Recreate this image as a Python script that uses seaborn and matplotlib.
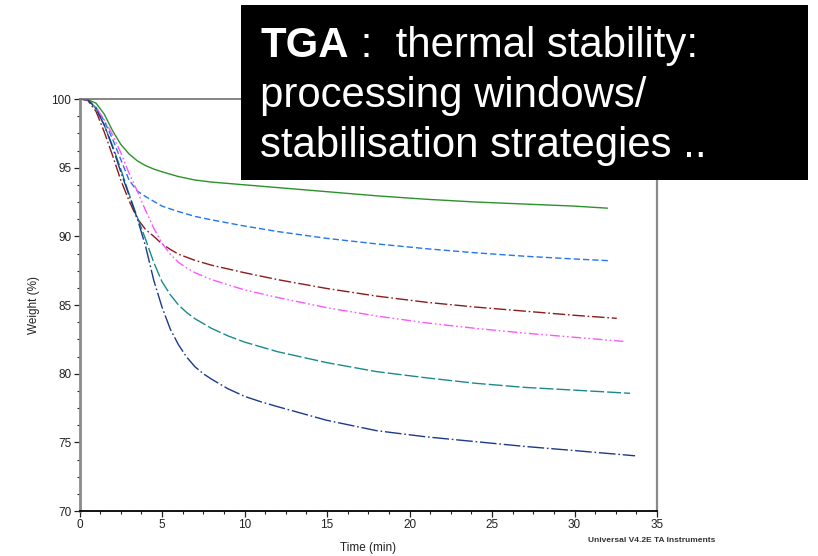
import numpy as np
import pandas as pd
import matplotlib
matplotlib.use("Agg")
import matplotlib.pyplot as plt
import seaborn as sns
from matplotlib.ticker import MultipleLocator

# ---- data ----
t_green = [0, 0.5, 1, 1.5, 2, 2.5, 3, 3.5, 4, 4.5, 5, 6, 7, 8, 10, 12, 15, 18, 21, 24, 27, 30, 32.0]
w_green = [100, 99.95, 99.7, 98.9, 97.7, 96.7, 96.0, 95.5, 95.15, 94.9, 94.7, 94.35, 94.1, 93.95,
           93.75, 93.55, 93.25, 92.95, 92.7, 92.5, 92.35, 92.2, 92.05]

t_blue = [0, 0.5, 1, 1.5, 2, 2.5, 3, 3.5, 4, 4.5, 5, 6, 7, 8, 10, 12, 15, 18, 21, 24, 27, 30, 32.2]
w_blue = [100, 99.95, 99.4, 98.4, 97.1, 95.6, 94.1, 93.3, 92.9, 92.55, 92.2, 91.8, 91.45, 91.2,
          90.75, 90.35, 89.85, 89.45, 89.1, 88.8, 88.55, 88.35, 88.22]

t_maroon = [0, 0.5, 1, 1.5, 2, 2.5, 3, 3.5, 4, 4.5, 5, 5.5, 6, 7, 8, 10, 12, 15, 18, 21, 24, 27, 30, 32.56]
w_maroon = [100, 99.9, 99.1, 97.6, 95.9, 94.1, 92.6, 91.3, 90.5, 90.0, 89.45, 89.05, 88.7, 88.25, 87.9,
            87.35, 86.85, 86.2, 85.65, 85.2, 84.85, 84.55, 84.25, 84.03]

t_pink = [0, 0.5, 1, 1.5, 2, 2.5, 3, 3.5, 4, 4.5, 5, 5.5, 6, 6.5, 7, 8, 10, 12, 15, 18, 21, 24, 27, 30, 32.96]
w_pink = [100, 99.95, 99.4, 98.5, 97.4, 96.1, 94.6, 93.3, 91.9, 90.6, 89.5, 88.7, 88.1, 87.7, 87.35, 86.85,
          86.1, 85.55, 84.8, 84.2, 83.7, 83.3, 82.95, 82.65, 82.35]

t_teal = [0, 0.5, 1, 1.5, 2, 2.5, 3, 3.5, 4, 4.5, 5, 5.5, 6, 6.5, 7, 8, 9, 10, 12, 15, 18, 21, 24, 27, 30, 33.36]
w_teal = [100, 99.95, 99.3, 98.1, 96.6, 94.9, 93.1, 91.4, 89.8, 88.1, 86.7, 85.75, 85.0, 84.45, 84.0, 83.3,
          82.75, 82.3, 81.6, 80.8, 80.15, 79.7, 79.3, 79.0, 78.8, 78.57]

t_navy = [0, 0.5, 1, 1.5, 2, 2.5, 3, 3.5, 4, 4.5, 5, 5.5, 6, 6.5, 7, 7.5, 8, 9, 10, 11, 12, 15, 18, 21,
          24, 27, 30, 33.67]
w_navy = [100, 99.95, 99.3, 98.1, 96.5, 94.7, 93.0, 91.3, 89.3, 86.8, 84.85, 83.25, 82.1, 81.2, 80.5,
          80.0, 79.6, 78.9, 78.35, 77.95, 77.6, 76.6, 75.85, 75.4, 75.05, 74.7, 74.4, 74.02]

x_ticks = [0, 5, 10, 15, 20, 25, 30, 35]
y_ticks = [70, 75, 80, 85, 90, 95, 100]

title_bold = "TGA"
title_rest = " :  thermal stability:"
title_line2 = "processing windows/"
title_line3 = "stabilisation strategies .."
x_label = "Time (min)"
y_label = "Weight (%)"
footer = "Universal V4.2E TA Instruments"

# ---- styling ----
sns.set_style("white")
plt.rcParams["font.family"] = ["Liberation Sans", "DejaVu Sans"]

series = [
    (t_green, w_green, "#2a922a", None),
    (t_blue, w_blue, "#2276f0", (4.5, 2.2)),
    (t_maroon, w_maroon, "#8a1c1c", (9, 2, 1.2, 2)),
    (t_pink, w_pink, "#ff55ff", (7, 2, 1.2, 2, 1.2, 2)),
    (t_teal, w_teal, "#1b8a8a", (10, 2.2)),
    (t_navy, w_navy, "#1c3a8a", (12, 2, 1.2, 2)),
]

fig = plt.figure(figsize=(8.18, 5.56), dpi=100)
ax = fig.add_axes([79.5 / 818, 1 - 511 / 556, (657 - 79.5) / 818, (511 - 99) / 556])

for t, w, c, d in series:
    df = pd.DataFrame({"t": t, "w": w})
    sns.lineplot(data=df, x="t", y="w", ax=ax, color=c, linewidth=1.0,
                 estimator=None, sort=False)
    ln = ax.lines[-1]
    ln.set_solid_joinstyle("round")
    if d is not None:
        ln.set_dashes(d)

ax.set_xlim(0, 35)
ax.set_ylim(70, 100)
ax.set_xticks(x_ticks)
ax.set_yticks(y_ticks)
ax.xaxis.set_minor_locator(MultipleLocator(1.25))
ax.yaxis.set_minor_locator(MultipleLocator(1.25))
ax.tick_params(axis="both", which="major", direction="out", length=4, width=0.9,
               labelsize=8.5, colors="#222222", pad=2)
ax.tick_params(axis="both", which="minor", direction="out", length=2.5, width=0.8,
               colors="#222222")
ax.tick_params(axis="y", which="both", left=True)
ax.tick_params(axis="x", which="both", bottom=True)

for side in ["left", "right", "top"]:
    ax.spines[side].set_visible(True)
ax.spines["left"].set_color("#8a8a8a")
ax.spines["left"].set_linewidth(2.0)
ax.spines["top"].set_color("#707070")
ax.spines["top"].set_linewidth(1.2)
ax.spines["right"].set_color("#8a8a8a")
ax.spines["right"].set_linewidth(1.6)
ax.spines["bottom"].set_color("black")
ax.spines["bottom"].set_linewidth(1.3)

ax.set_xlabel(x_label, fontsize=8.5, color="#222222")
ax.set_ylabel(y_label, fontsize=8.5, color="#222222")
ax.xaxis.set_label_coords(0.5, -0.075)
ax.yaxis.set_label_coords(-0.068, 0.5)

fig.text(588 / 818, 1 - 541 / 556, footer, fontsize=6, fontweight="bold",
         color="#333333", va="center", ha="left")

# black title box overlay
box = plt.Rectangle((241 / 818, 1 - 180 / 556), (808 - 241) / 818, (180 - 5) / 556,
                    transform=fig.transFigure, facecolor="black", edgecolor="none",
                    zorder=10)
fig.patches.append(box)

fs = 30.2
x0 = 260.5 / 818
t1 = fig.text(x0, 1 - 57 / 556, title_bold, fontsize=fs, fontweight="bold",
              color="white", va="baseline", ha="left", zorder=11)
fig.canvas.draw()
bb = t1.get_window_extent(renderer=fig.canvas.get_renderer())
x1 = bb.x1 / fig.bbox.width
fig.text(x1, 1 - 57 / 556, title_rest, fontsize=fs, color="white",
         va="baseline", ha="left", zorder=11)
fig.text(x0, 1 - 107 / 556, title_line2, fontsize=fs, color="white",
         va="baseline", ha="left", zorder=11)
fig.text(x0, 1 - 157 / 556, title_line3, fontsize=fs, color="white",
         va="baseline", ha="left", zorder=11)

fig.savefig("out.png", dpi=100)
